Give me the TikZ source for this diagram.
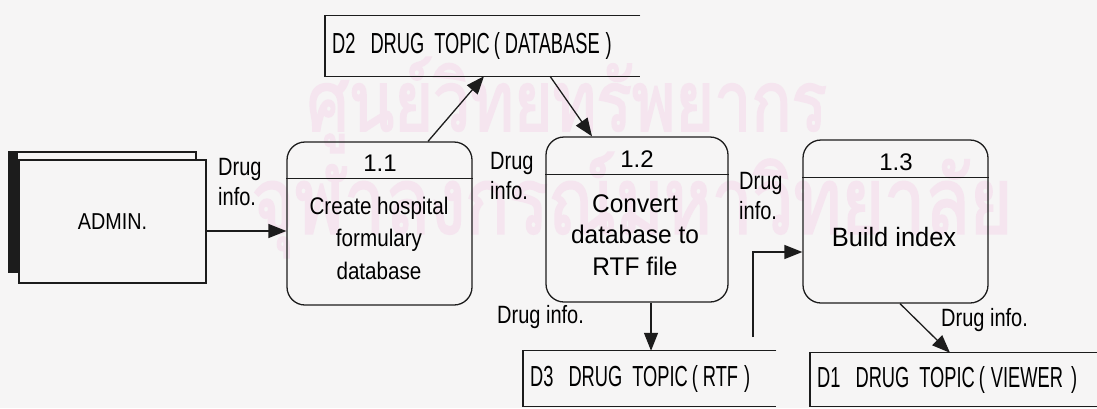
\documentclass[tikz,border=0pt]{standalone}
\usepackage{graphicx}
\usepackage{fontspec}
\setmainfont{Liberation Sans}
\newfontfamily\numfont{Liberation Sans}
\newfontfamily\procfont[FakeStretch=0.86]{Liberation Sans}
\newfontfamily\bodyfont[FakeStretch=0.96]{Liberation Sans}
\newfontfamily\flowfont[FakeStretch=0.8]{Liberation Sans}
\newfontfamily\storefont[FakeStretch=0.63]{Liberation Sans}
\newfontfamily\thaifont[Script=Thai,FakeBold=2.5]{Loma}
\usetikzlibrary{arrows.meta,calc}
\definecolor{ink}{RGB}{28,28,28}
\definecolor{paper}{RGB}{246,245,245}
\definecolor{stamp}{RGB}{245,229,239}

\begin{document}
\begin{tikzpicture}[x=1pt,y=-1pt,
  line/.style={draw=ink,line width=1.3pt},
  flow/.style={line,-{Triangle[length=18pt,width=14pt]}},
  process/.style={draw=ink,line width=1.3pt,rounded corners=18pt,inner sep=0pt},
  numtxt/.style={inner sep=0pt,font=\numfont\fontsize{24}{28}\selectfont},
  proctxt/.style={inner sep=0pt,align=center,font=\procfont\fontsize{24}{32.5}\selectfont},
  bodytxt/.style={inner sep=0pt,align=center,font=\bodyfont\fontsize{25.5}{31.5}\selectfont},
  entity/.style={draw=ink,line width=1.3pt,fill=paper,inner sep=0pt},
  store/.style={inner xsep=7pt,inner ysep=0pt,anchor=west,align=left,
    font=\storefont\fontsize{29}{33}\selectfont},
  flowlab/.style={inner sep=0pt,anchor=north west,align=left,
    font=\flowfont\fontsize{25}{30}\selectfont},
  stampmark/.style={inner sep=0pt,text=stamp}]

% page and bounding box
\fill[paper] (0,0) rectangle (1097,408);
\useasboundingbox (0,0) rectangle (1097,408);

% library stamp behind the chart
\node[stampmark] (wm1) at (567,105) {\resizebox*{520pt}{95pt}{\thaifont ศูนย์วิทยทรัพยากร}};
\node[stampmark] (wm2) at (632,205) {\resizebox*{760pt}{105pt}{\thaifont จุฬาลงกรณ์มหาวิทยาลัย}};

% external entity with its shadowed edge
\node[entity,minimum width=187pt,minimum height=120pt] (adminbk) at (102.5,212) {};
\fill[ink] (adminbk.north west) rectangle ($(adminbk.south west)+(10,0)$);
\node[entity,minimum width=187pt,minimum height=123pt,
  font=\procfont\fontsize{23}{27}\selectfont] (admin) at (112.5,221.5) {ADMIN.};

% processes
\node[process,minimum width=185pt,minimum height=163pt] (p11) at (379.5,223.5) {};
\draw[line] ($(p11.north west)+(0,37)$) -- ($(p11.north east)+(0,37)$);
\node[numtxt] (p11n) at (380,163) {1.1};
\node[proctxt] (p11t) at (379,238) {Create hospital\\formulary\\database};

\node[process,minimum width=182pt,minimum height=165pt] (p12) at (637,219.5) {};
\draw[line] ($(p12.north west)+(0,38)$) -- ($(p12.north east)+(0,38)$);
\node[numtxt] (p12n) at (637,159) {1.2};
\node[bodytxt] (p12t) at (635,235) {Convert\\database to\\RTF file};

\node[process,minimum width=185pt,minimum height=163pt] (p13) at (895.5,221.5) {};
\draw[line] ($(p13.north west)+(0,38)$) -- ($(p13.north east)+(0,38)$);
\node[numtxt] (p13n) at (896,162) {1.3};
\node[bodytxt,font=\bodyfont\fontsize{26.5}{31}\selectfont] (p13t) at (894,237.5) {Build index};

% data stores (open on the right)
\node[store,minimum height=60pt,text width=301pt] (d2) at (325,46)
  {D2\hspace{15pt}DRUG\hspace{10pt}TOPIC\hspace{4pt}(\hspace{5pt}DATABASE\hspace{6pt})};
\node[store,minimum height=55pt,text width=239pt] (d3) at (523,378.5)
  {D3\hspace{15pt}DRUG\hspace{10pt}TOPIC\hspace{4pt}(\hspace{5pt}RTF\hspace{6pt})};
\node[store,minimum height=53pt,text width=276pt] (d1) at (810,379.5)
  {D1\hspace{15pt}DRUG\hspace{10pt}TOPIC\hspace{4pt}(\hspace{6pt}VIEWER\hspace{8pt})};
\foreach \s in {d2,d3,d1}
  \draw[line] (\s.north east) -- (\s.north west) -- (\s.south west) -- (\s.south east);

% data flows
\draw[flow] (admin.east |- 0,231) -- (p11.west |- 0,231);
\draw[flow] (p11.north -| 428,0) -- (d2.south -| 484,0);
\draw[flow] (d2.south -| 550,0) -- (p12.north -| 592,0);
\draw[flow] (p12.south -| 651,0) -- (d3.north -| 651,0);
\coordinate (tap) at (753,337);
\draw[flow] (tap) |- (p13.west |- 0,252);
\draw[flow] (p13.south -| 900,0) -- (d1.north -| 950,0);

% flow labels
\node[flowlab] (l1) at (218,158) {Drug\\info.};
\node[flowlab] (l2) at (490,152) {Drug\\info.};
\node[flowlab] (l3) at (739,172) {Drug\\info.};
\node[flowlab] (l4) at (497,305) {Drug info.};
\node[flowlab] (l5) at (941,308) {Drug info.};
\end{tikzpicture}
\end{document}
